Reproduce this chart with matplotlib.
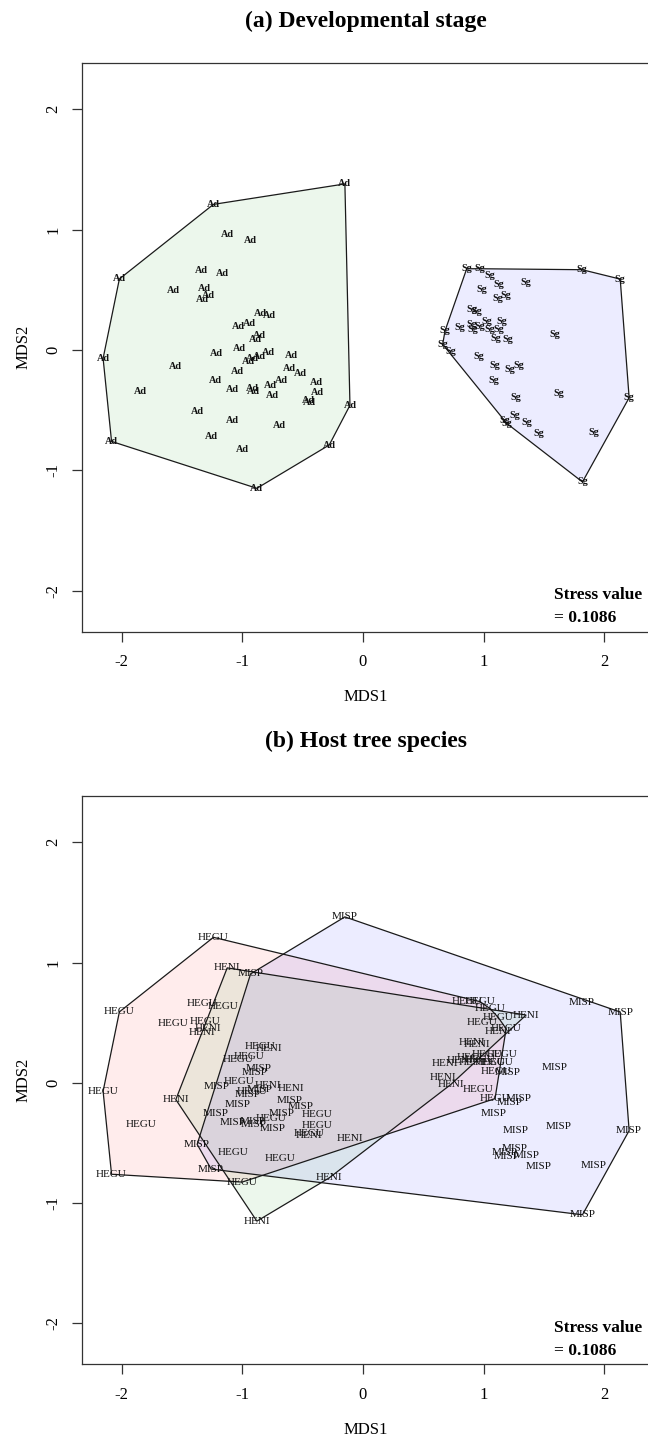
import numpy as np
import matplotlib
matplotlib.use("Agg")
import matplotlib.pyplot as plt

plt.rcParams['font.family'] = ['Liberation Serif', 'DejaVu Serif']

# NMDS site scores (same ordination in both panels)
mds1 = [
    # adults
    -0.15, -1.24, -2.02, -2.155, -2.085, -0.88, -0.28, -0.108,
    -1.126, -0.932, -1.336, -1.164, -1.574, -1.311, -1.284, -1.333,
    -0.852, -0.777, -1.032, -0.943, -0.863, -0.896, -1.212, -1.027,
    -0.952, -0.921, -0.855, -0.786, -0.595, -1.552, -1.040, -0.611,
    -0.520, -1.222, -0.678, -0.766, -0.384, -1.842, -1.081, -0.913,
    -0.907, -0.752, -0.379, -0.451, -0.446, -1.375, -1.079, -0.689,
    -1.259, -1.002,
    # sub-adults
    0.860, 0.971, 1.054, 1.817, 2.133, 2.207, 1.820, 1.178,
    0.680, 0.661, 0.728, 0.985, 1.123, 1.353, 1.118, 1.187,
    0.902, 0.943, 0.805, 0.902, 0.907, 0.971, 1.026, 1.054,
    1.151, 1.123, 1.104, 1.200, 1.593, 0.957, 1.095, 1.220,
    1.295, 1.081, 1.621, 1.267, 1.261, 1.193, 1.358, 1.455,
    1.911,
]
mds2 = [
    1.380, 1.210, 0.590, -0.070, -0.760, -1.150, -0.790, -0.460,
    0.956, 0.906, 0.661, 0.639, 0.492, 0.511, 0.453, 0.422,
    0.300, 0.286, 0.194, 0.217, 0.122, 0.086, -0.028, 0.008,
    -0.094, -0.069, -0.056, -0.022, -0.050, -0.139, -0.183, -0.150,
    -0.194, -0.256, -0.256, -0.297, -0.267, -0.344, -0.328, -0.322,
    -0.344, -0.378, -0.356, -0.417, -0.439, -0.511, -0.583, -0.625,
    -0.717, -0.825,
    0.675, 0.675, 0.617, 0.667, 0.589, -0.397, -1.097, -0.583,
    0.158, 0.047, -0.014, 0.500, 0.542, 0.564, 0.431, 0.450,
    0.339, 0.322, 0.189, 0.208, 0.167, 0.194, 0.236, 0.167,
    0.236, 0.167, 0.097, 0.089, 0.131, -0.056, -0.131, -0.161,
    -0.133, -0.256, -0.361, -0.397, -0.542, -0.611, -0.606, -0.694,
    -0.689,
]
stage = ["Ad"] * 50 + ["Sg"] * 41
host = [
    "MISP", "HEGU", "HEGU", "HEGU", "HEGU", "HENI", "HENI", "HENI",
    "HENI", "MISP", "HEGU", "HEGU", "HEGU", "HEGU", "HENI", "HENI",
    "HEGU", "HENI", "HEGU", "HEGU", "MISP", "MISP", "MISP", "HEGU",
    "MISP", "HEGU", "MISP", "HENI", "HENI", "HENI", "MISP", "MISP",
    "MISP", "MISP", "MISP", "HEGU", "HEGU", "HEGU", "MISP", "MISP",
    "MISP", "MISP", "HEGU", "HEGU", "HENI", "MISP", "HEGU", "HEGU",
    "MISP", "HEGU",
    "HEGU", "HEGU", "HEGU", "MISP", "MISP", "MISP", "MISP", "MISP",
    "HENI", "HENI", "HENI", "HEGU", "HEGU", "HENI", "HENI", "HEGU",
    "HENI", "HENI", "HENI", "HEGU", "HENI", "HEGU", "HEGU", "HEGU",
    "HEGU", "HEGU", "HEGU", "MISP", "MISP", "HEGU", "HEGU", "MISP",
    "MISP", "MISP", "MISP", "MISP", "MISP", "MISP", "MISP", "MISP",
    "MISP",
]
stage_levels = ["Ad", "Sg"]
host_levels = ["HEGU", "HENI", "MISP"]
stress = 0.1086

hull_cols = {"Ad": "#009900", "Sg": "#0000ff",
             "HEGU": "#ff0000", "HENI": "#009900", "MISP": "#0000ff"}

x = np.array(mds1)
y = np.array(mds2)


def chull(pts):
    # monotone chain convex hull
    pts = sorted(map(tuple, pts))

    def cross(o, a, b):
        return (a[0] - o[0]) * (b[1] - o[1]) - (a[1] - o[1]) * (b[0] - o[0])

    lower, upper = [], []
    for p in pts:
        while len(lower) >= 2 and cross(lower[-2], lower[-1], p) <= 0:
            lower.pop()
        lower.append(p)
    for p in reversed(pts):
        while len(upper) >= 2 and cross(upper[-2], upper[-1], p) <= 0:
            upper.pop()
        upper.append(p)
    return np.array(lower[:-1] + upper[:-1])


W, H = 648, 1437
fig = plt.figure(figsize=(W / 100, H / 100), dpi=100)


def add_panel(top, bottom):
    # axes placed in pixel units; right edge runs just past the figure
    return fig.add_axes([82 / W, 1 - bottom / H, (650 - 82) / W, (bottom - top) / H])


def draw(ax, groups, levels, bold):
    for lev in levels:
        m = np.array([g == lev for g in groups])
        h = chull(np.column_stack([x[m], y[m]]))
        ax.fill(h[:, 0], h[:, 1], facecolor=hull_cols[lev], alpha=0.075,
                edgecolor="none", zorder=1)
        ax.fill(h[:, 0], h[:, 1], facecolor="none", edgecolor="#1a1a1a",
                lw=0.9, zorder=2)
    for xi, yi, g in zip(x, y, groups):
        ax.text(xi, yi, g, ha="center", va="center",
                fontsize=7.3 if bold else 8,
                fontweight="bold" if bold else "normal",
                color="#111111", zorder=3)

    ax.set_xlim(-2.33, 2.38)
    ax.set_ylim(-2.34, 2.385)
    ax.set_xticks([-2, -1, 0, 1, 2])
    ax.set_xticklabels(["-2", "-1", "0", "1", "2"])
    ax.set_yticks([-2, -1, 0, 1, 2])
    ax.set_yticklabels(["-2", "-1", "0", "1", "2"], rotation=90, va="center")
    ax.tick_params(direction="out", length=7, width=0.9, labelsize=12,
                   color="#333333")
    ax.tick_params(axis="x", pad=9)
    ax.tick_params(axis="y", pad=8)
    for s in ax.spines.values():
        s.set_linewidth(0.9)
        s.set_color("#333333")
    ax.set_xlabel("MDS1", fontsize=12, labelpad=14)
    ax.set_ylabel("MDS2", fontsize=12, labelpad=10)

    ax.text(1.585, -2.04, "Stress value", fontsize=12.5, fontweight="bold",
            ha="left", va="center")
    ax.text(1.585, -2.23, "= %.4f" % stress, fontsize=12.5, fontweight="bold",
            ha="left", va="center")


ax1 = add_panel(63, 631.5)
draw(ax1, stage, stage_levels, bold=True)
fig.text(366 / W, 1 - 21 / H, "(a) Developmental stage", ha="center",
         va="center", fontsize=17, fontweight="bold")

ax2 = add_panel(796, 1364.3)
draw(ax2, host, host_levels, bold=False)
fig.text(366 / W, 1 - 741 / H, "(b) Host tree species", ha="center",
         va="center", fontsize=17, fontweight="bold")

fig.savefig("out.png", dpi=100)
